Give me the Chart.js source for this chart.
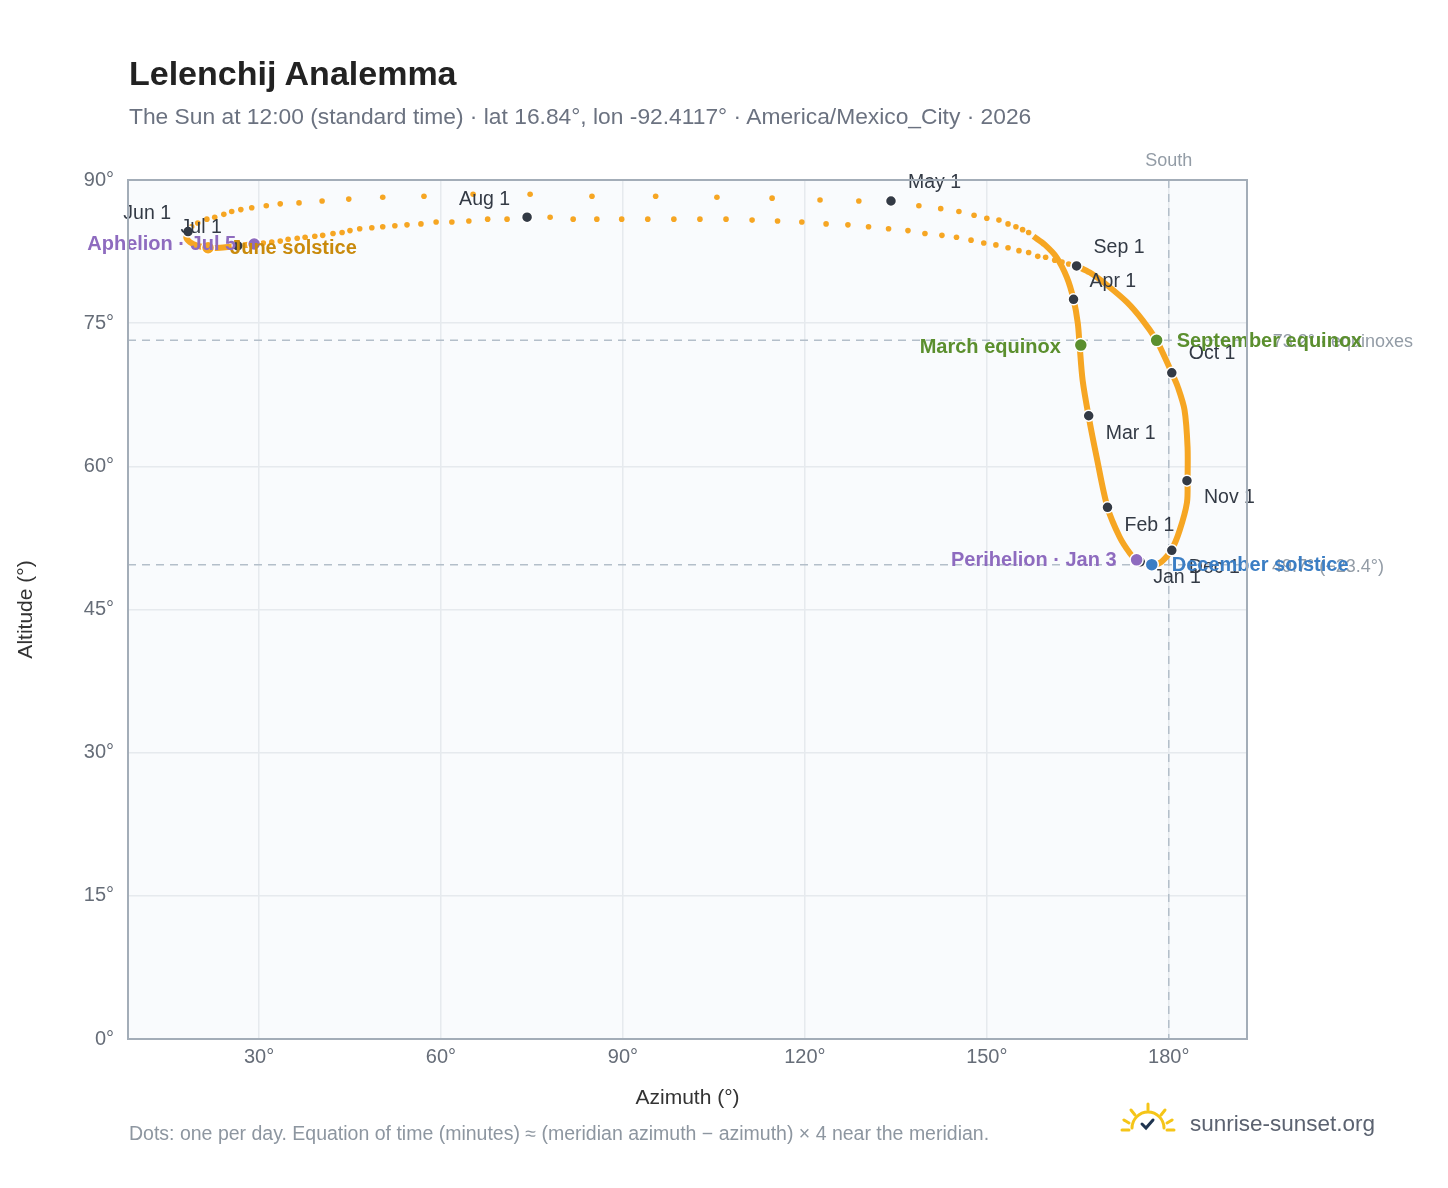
<!DOCTYPE html>
<html><head><meta charset="utf-8">
<script src="https://cdn.jsdelivr.net/npm/chart.js@4.4.1/dist/chart.umd.min.js"></script>
<style>
body{margin:0;background:#fff;font-family:"Liberation Sans",Arial,sans-serif;}
#wrap{position:relative;width:1448px;height:1188px;}
canvas{position:absolute;left:0;top:0;}
.t{position:absolute;white-space:nowrap;line-height:1;}
</style></head><body>
<div id="wrap">
<canvas id="c" width="1448" height="1188"></canvas>
<div class="t" style="left:129px;top:56px;font-size:34px;font-weight:bold;color:#222;">Lelenchij Analemma</div>
<div class="t" style="left:129px;top:105px;font-size:22.8px;color:#6b7280;">The Sun at 12:00 (standard time) · lat 16.84°, lon -92.4117° · America/Mexico_City · 2026</div>
<div class="t" style="left:129px;top:1124px;font-size:19.5px;color:#8d96a0;">Dots: one per day. Equation of time (minutes) ≈ (meridian azimuth − azimuth) × 4 near the meridian.</div>
<svg class="t" style="left:1118px;top:1100px" width="60" height="40" viewBox="0 0 60 40">
<g stroke="#f5c518" stroke-width="3" fill="none" stroke-linecap="round">
<path d="M14 28 A16 16 0 0 1 46 28"/>
<line x1="4" y1="30" x2="11" y2="30"/><line x1="49" y1="30" x2="56" y2="30"/>
<line x1="30" y1="4" x2="30" y2="10"/><line x1="13" y1="10" x2="17" y2="15"/><line x1="47" y1="10" x2="43" y2="15"/>
<line x1="6" y1="20" x2="11" y2="23"/><line x1="54" y1="20" x2="49" y2="23"/>
</g>
<path d="M24 24 L28 28 L35 20" stroke="#1f3550" stroke-width="3" fill="none" stroke-linecap="round"/>
</svg>
<div class="t" style="left:1190px;top:1113px;font-size:22.5px;color:#5b6270;">sunrise-sunset.org</div>
</div>
<script>
// Dense part of the curve (Sep 1 → Dec → Jan → Apr → late Apr), azimuth / altitude in degrees
const loopAz  = [164.8,167.0,169.8,173.1,175.7,177.9,179.0,180.5,181.5,182.6,183.1,183.1,183.0,181.8,180.5,178.8,177.2,174.7,173.6,171.9,169.9,168.1,166.8,165.8,165.3,165.0,164.3,163.2,161.5,159.6,157.7];
const loopAlt = [81.0,80.3,79.0,77.2,75.3,73.3,71.9,69.8,68.3,65.9,62.0,58.6,56.2,53.3,51.3,50.0,49.7,50.2,50.9,52.6,55.7,61.0,65.2,69.0,72.7,75.0,77.5,79.8,81.9,83.2,84.1];
// Dense curl near the June solstice (Jun 1 → Jul 5)
const curlAz  = [18.3,18.0,18.6,19.9,21.6,23.6,25.2,26.5,27.9,29.2];
const curlAlt = [84.6,84.0,83.5,83.1,82.9,82.9,83.0,83.1,83.2,83.3];
// Daily dots: late April → May → June 1
const springAz  = [156.9,155.9,154.8,153.5,152.0,150.0,147.9,145.4,142.4,138.8,134.3,128.9,122.5,114.6,105.5,95.4,84.9,74.7,65.3,57.2,50.4,44.8,40.4,36.6,33.5,31.2,28.8,27.0,25.5,24.2,22.7,21.4,19.9,18.9,18.3];
const springAlt = [84.5,84.8,85.1,85.4,85.8,86.0,86.3,86.7,87.0,87.3,87.7,87.8,87.9,88.1,88.2,88.3,88.3,88.5,88.5,88.3,88.2,88.0,87.8,87.6,87.5,87.3,87.1,86.9,86.7,86.4,86.1,85.9,85.5,85.1,84.6];
// Daily dots: July 5 → August → September 1
const summerAz  = [29.2,30.7,32.1,33.5,34.8,36.3,37.6,39.2,40.5,42.2,43.7,45.0,46.6,48.6,50.4,52.4,54.4,56.7,59.2,61.8,64.6,67.7,70.9,74.3,78.0,81.8,85.7,89.8,94.1,98.4,102.7,107.0,111.3,115.5,119.5,123.5,127.1,130.5,133.8,137.0,139.8,142.6,145.0,147.4,149.5,151.5,153.5,155.3,156.9,158.4,159.7,161.2,162.4,163.5,164.8];
const summerAlt = [83.3,83.4,83.5,83.6,83.8,83.9,84.0,84.1,84.2,84.4,84.5,84.7,84.9,85.0,85.1,85.2,85.3,85.4,85.6,85.6,85.7,85.9,85.9,86.0,86.1,85.9,85.9,85.9,85.9,85.9,85.9,85.9,85.8,85.7,85.6,85.4,85.3,85.1,84.9,84.7,84.4,84.2,84.0,83.7,83.4,83.2,82.9,82.6,82.4,82.0,81.9,81.6,81.4,81.2,81.0];
// Month markers
const monthNames = ["Jan 1","Feb 1","Mar 1","Apr 1","May 1","Jun 1","Jul 1","Aug 1","Sep 1","Oct 1","Nov 1","Dec 1"];
const monthAz    = [175.3,169.9,166.8,164.3,134.2,18.3,26.5,74.2,164.8,180.5,183.0,180.5];
const monthAlt   = [50.0,55.7,65.3,77.5,87.8,84.6,83.1,86.1,81.0,69.8,58.5,51.2];
const monthLabelDir = [[13,16,"left"],[17,18,"left"],[17,18,"left"],[16,-18,"left"],[17,-18,"left"],[-17,-18,"right"],[-16,-18,"right"],[-17,-18,"right"],[17,-18,"left"],[17,-19,"left"],[17,17,"left"],[17,17,"left"]];
// Special events
const eventNames = ["June solstice","Aphelion · Jul 5","March equinox","September equinox","Perihelion · Jan 3","December solstice"];
const eventAz    = [21.6,29.2,165.5,178.0,174.7,177.2];
const eventAlt   = [82.9,83.3,72.7,73.2,50.2,49.7];
const eventColor = ["#f5a623","#8e6bbf","#5b8f2e","#5b8f2e","#8e6bbf","#3b7ec4"];
const eventText  = ["#c98a0c","#8e6bbf","#5b8f2e","#5b8f2e","#8e6bbf","#3b7ec4"];
const eventLabelDir = [[22,1,"left"],[-18,1,"right"],[-20,2,"right"],[20,1,"left"],[-20,1,"right"],[20,1,"left"]];
// Reference lines
const equinoxAlt = 73.2, decSolAlt = 49.7, southAz = 180;
const xTicks = [30,60,90,120,150,180];
const yTicks = [0,15,30,45,60,75,90];

const ORANGE = "#f6a623";
const FONT = "'Liberation Sans',Arial";
const pts = (a,b)=>a.map((v,i)=>({x:v,y:b[i]}));

const refPlugin = {
  id:"ref",
  beforeDatasetsDraw(ch){
    const {ctx, chartArea:a, scales:{x,y}} = ch;
    ctx.save();
    ctx.strokeStyle="#b4bfca"; ctx.lineWidth=1.5; ctx.setLineDash([8,6]);
    [equinoxAlt,decSolAlt].forEach(v=>{const py=y.getPixelForValue(v);ctx.beginPath();ctx.moveTo(a.left,py);ctx.lineTo(a.right,py);ctx.stroke();});
    const px=x.getPixelForValue(southAz);ctx.beginPath();ctx.moveTo(px,a.top);ctx.lineTo(px,a.bottom);ctx.stroke();
    ctx.setLineDash([]);
    ctx.fillStyle="#939ca6"; ctx.font="18px "+FONT; ctx.textAlign="center"; ctx.textBaseline="middle";
    ctx.fillText("South",px,a.top-19);
    ctx.textAlign="right";
    ctx.fillText(equinoxAlt.toFixed(1)+"° · equinoxes",1413,y.getPixelForValue(equinoxAlt)+2);
    ctx.fillText(decSolAlt.toFixed(1)+"° (−23.4°)",1384,y.getPixelForValue(decSolAlt)+2);
    ctx.restore();
  },
  afterDatasetsDraw(ch){
    const {ctx, scales:{x,y}} = ch;
    ctx.save(); ctx.textBaseline="middle";
    ctx.font="19.5px "+FONT; ctx.fillStyle="#333a45";
    monthNames.forEach((n,i)=>{const d=monthLabelDir[i];ctx.textAlign=d[2];ctx.fillText(n,x.getPixelForValue(monthAz[i])+d[0],y.getPixelForValue(monthAlt[i])+d[1]);});
    ctx.font="bold 20px "+FONT;
    eventNames.forEach((n,i)=>{const d=eventLabelDir[i];ctx.textAlign=d[2];ctx.fillStyle=eventText[i];ctx.fillText(n,x.getPixelForValue(eventAz[i])+d[0],y.getPixelForValue(eventAlt[i])+d[1]);});
    ctx.restore();
  },
  beforeDraw(ch){
    const {ctx, chartArea:a}=ch; ctx.save(); ctx.fillStyle="#f9fbfd"; ctx.fillRect(a.left,a.top,a.right-a.left,a.bottom-a.top); ctx.restore();
  },
  afterDraw(ch){
    const {ctx, chartArea:a}=ch; ctx.save();
    ctx.strokeStyle="#a3adb8"; ctx.lineWidth=2; ctx.strokeRect(a.left,a.top,a.right-a.left,a.bottom-a.top); ctx.restore();
  }
};

new Chart(document.getElementById("c"),{
  type:"scatter",
  data:{datasets:[
    {data:pts(loopAz,loopAlt),showLine:true,borderColor:ORANGE,borderWidth:6,pointRadius:0,tension:0.3,order:5},
    {data:pts(curlAz,curlAlt),showLine:true,borderColor:ORANGE,borderWidth:6,pointRadius:0,tension:0.3,order:5},
    {data:pts(springAz,springAlt),pointRadius:2.8,backgroundColor:ORANGE,borderWidth:0,order:4},
    {data:pts(summerAz,summerAlt),pointRadius:2.8,backgroundColor:ORANGE,borderWidth:0,order:4},
    {data:pts(monthAz,monthAlt),pointRadius:5.5,backgroundColor:"#333a45",borderColor:"#fff",borderWidth:1.5,order:1},
    {data:pts(eventAz,eventAlt),pointRadius:6.5,backgroundColor:eventColor,borderColor:"#fff",borderWidth:1.5,order:0}
  ]},
  options:{
    responsive:false,animation:false,
    layout:{padding:{left:10,top:180,right:201,bottom:73}},
    plugins:{legend:{display:false},tooltip:{enabled:false}},
    scales:{
      x:{type:"linear",min:8.4,max:192.9,
        afterBuildTicks:s=>{s.ticks=xTicks.map(v=>({value:v}));},
        afterFit:s=>{s.height=76;},
        ticks:{callback:v=>v+"°",color:"#666d78",font:{size:20},padding:6},
        grid:{color:"#e6eaee",lineWidth:1.5,drawTicks:false},
        border:{color:"#a3adb8",width:2},
        title:{display:true,text:"Azimuth (°)",color:"#333",font:{size:21},padding:{bottom:4}}},
      y:{type:"linear",min:0,max:90,
        afterBuildTicks:s=>{s.ticks=yTicks.map(v=>({value:v}));},
        afterFit:s=>{s.width=118;},
        ticks:{callback:v=>v+"°",color:"#666d78",font:{size:20},padding:14},
        grid:{color:"#e6eaee",lineWidth:1.5,drawTicks:false},
        border:{color:"#a3adb8",width:2},
        title:{display:true,text:"Altitude (°)",color:"#333",font:{size:21},padding:{top:4}}}
    }
  },
  plugins:[refPlugin]
});
</script></body></html>
